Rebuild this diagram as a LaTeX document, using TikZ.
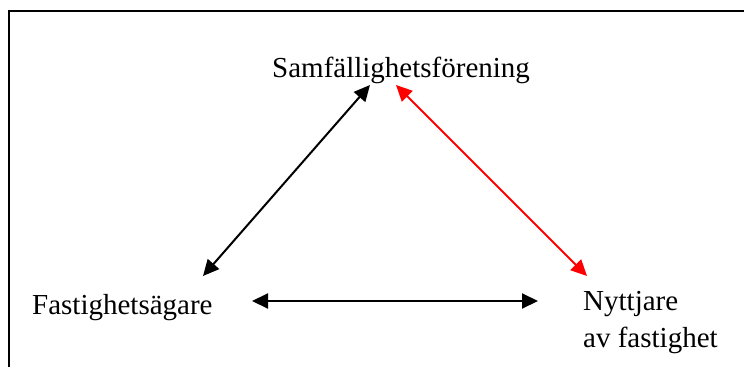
\documentclass[tikz,border=0pt]{standalone}
\usepackage{fontspec}
\setmainfont{Liberation Serif}
\usetikzlibrary{arrows.meta}
\begin{document}
\begin{tikzpicture}[x=1pt,y=-1pt,
  lbl/.style={inner sep=0pt,anchor=base west,font=\fontsize{29}{32.5}\selectfont,align=left},
  link/.style={line width=2pt,{Triangle[length=16pt,width=15pt]}-{Triangle[length=16pt,width=15pt]}},
  frame/.style={line width=1.6pt}]
\useasboundingbox (0,0) rectangle (744,367);
\draw[frame] (9,367) -- (9,11) -- (744,11);
\node[lbl] (sam) at (272,77) {Samfällighetsförening};
\node[lbl] (fast) at (32,314) {Fastighetsägare};
\node[lbl] (nytt) at (583,347) {Nyttjare\\[4pt]av fastighet};
\coordinate (a1) at (370,85);
\coordinate (a2) at (203,276);
\coordinate (b1) at (396,85);
\coordinate (b2) at (587,276);
\coordinate (c1) at (252,301);
\coordinate (c2) at (538,301);
\draw[link] (a1) -- (a2);
\draw[link,red] (b1) -- (b2);
\draw[link] (c1) -- (c2);
\end{tikzpicture}
\end{document}
